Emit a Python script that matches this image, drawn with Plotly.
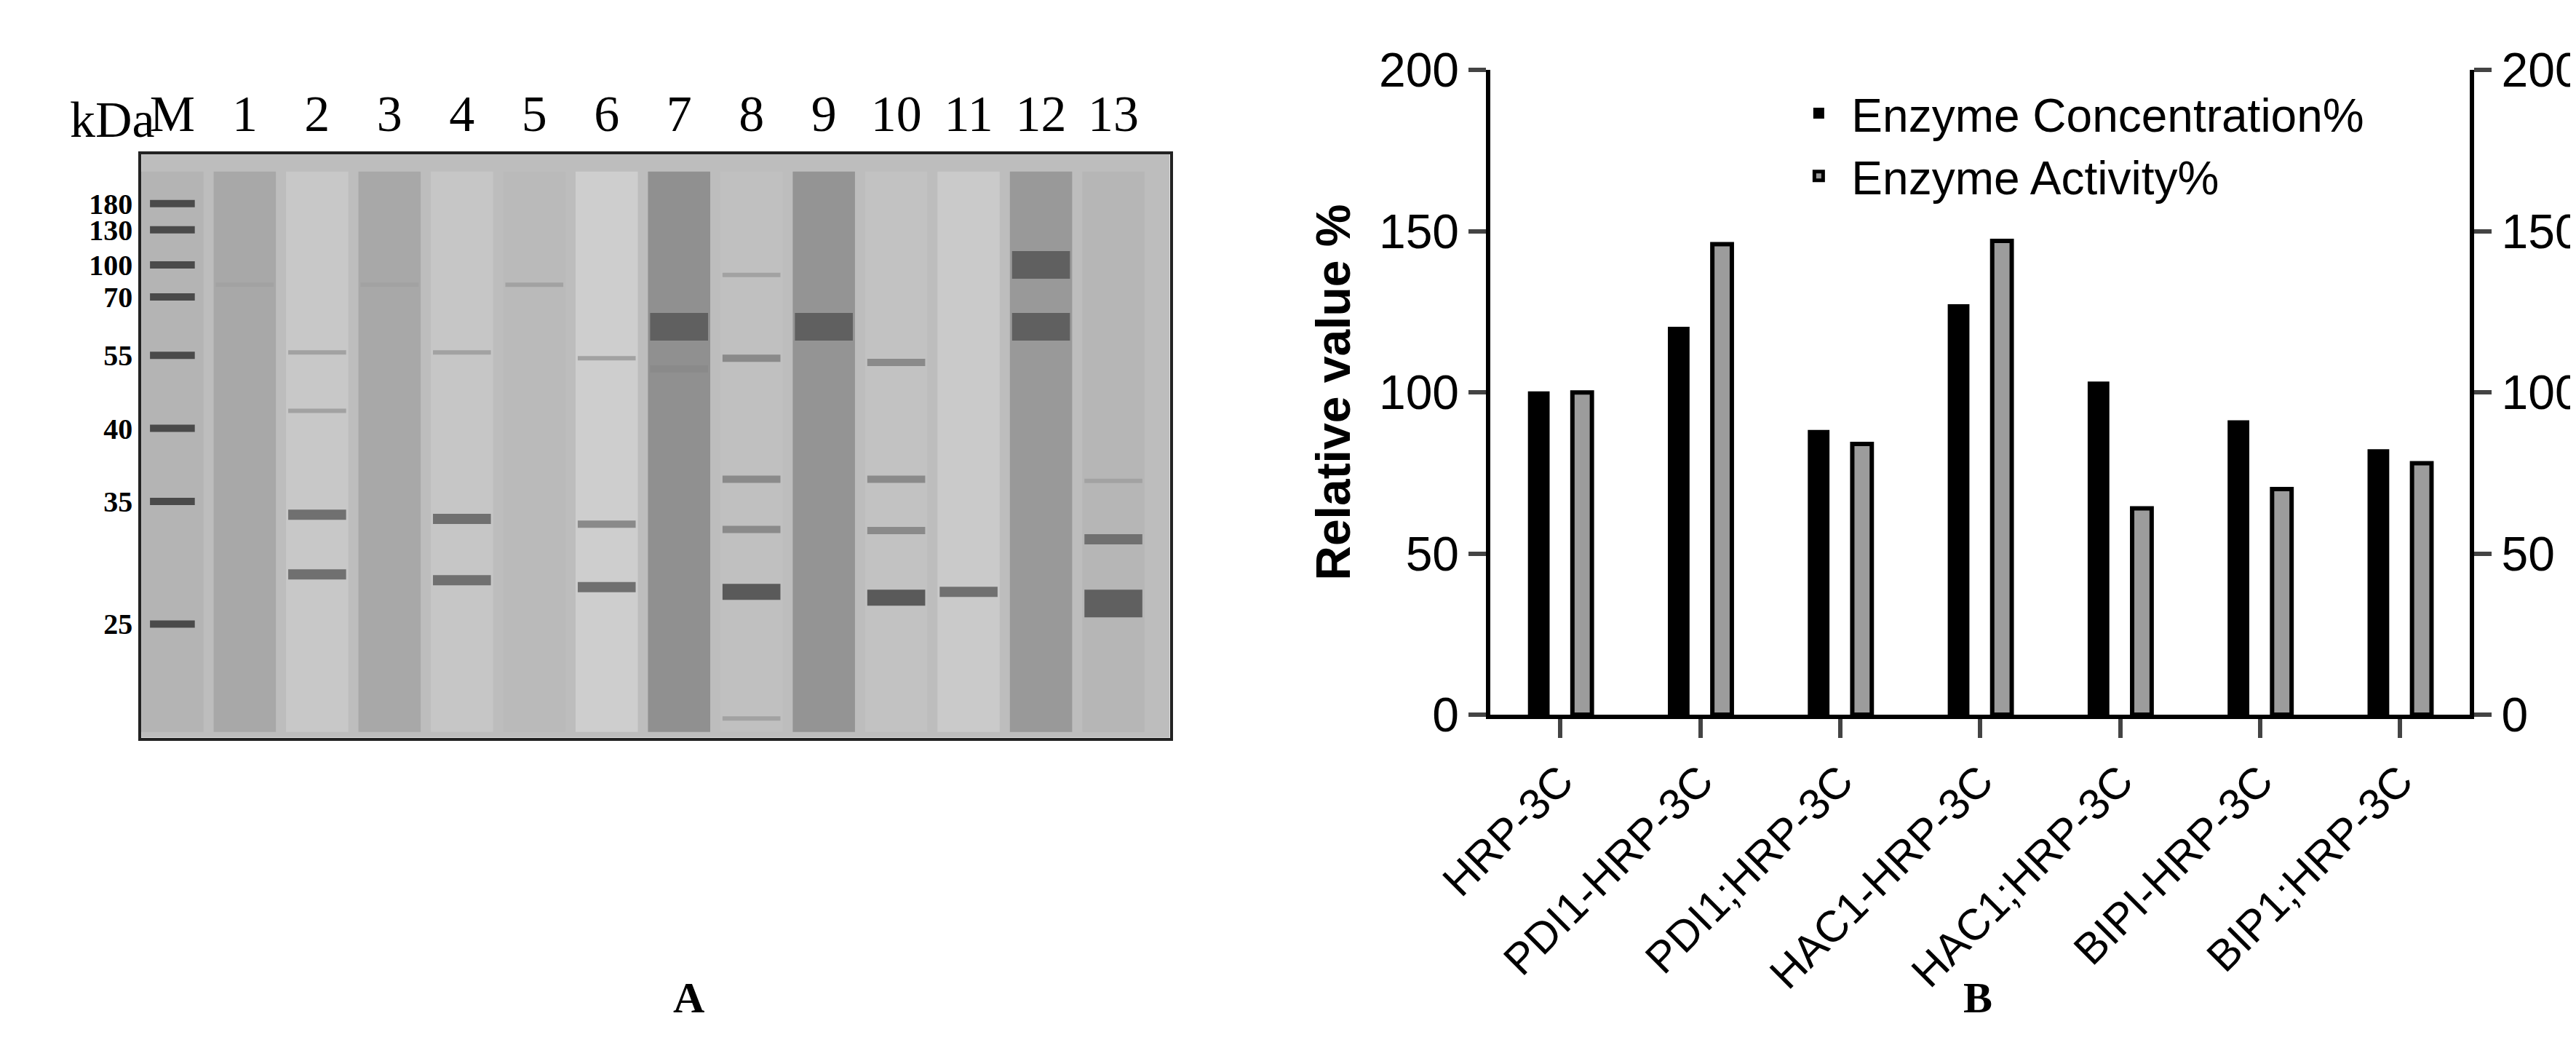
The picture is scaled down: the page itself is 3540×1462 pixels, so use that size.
import plotly.graph_objects as go

# ---- panel B data
constructs = ["HRP-3C", "PDI1-HRP-3C", "PDI1;HRP-3C", "HAC1-HRP-3C",
              "HAC1;HRP-3C", "BIPI-HRP-3C", "BIP1;HRP-3C"]
concentration = [100, 120, 88, 127, 103, 91, 82]
activity = [100, 146, 84, 147, 64, 70, 78]

# ---- panel A data (gel): lanes, marker ladder, smears, bands
lane_labels = ["M", "1", "2", "3", "4", "5", "6", "7", "8", "9", "10", "11", "12", "13"]
marker_kda = ["180", "130", "100", "70", "55", "40", "35", "25"]
marker_pos = [8.5, 13, 19, 24.5, 34.5, 47, 59.5, 80.5]   # migration, % of gel height
smear_shade = ["#b4b4b4", "#a8a8a8", "#c8c8c8", "#a8a8a8", "#c6c6c6", "#bababa", "#cecece",
               "#909090", "#c0c0c0", "#949494", "#c2c2c2", "#cacaca", "#999999", "#b6b6b6"]
band_lane = [2, 2, 2, 2, 4, 4, 4, 6, 6, 6, 7, 7, 8, 8, 8, 8, 8, 8,
             9, 10, 10, 10, 10, 11, 12, 12, 13, 13, 13, 1, 3, 5]
band_pos = [61.8, 72, 34, 44, 62.5, 73, 34, 63.4, 74.2, 35, 29.6, 36.8,
            20.7, 35, 55.7, 64.3, 75, 96.7, 29.6, 35.7, 55.7, 64.5, 76, 75,
            19, 29.6, 56, 66, 77, 22.4, 22.4, 22.4]
band_strength = [3, 3, 1, 1, 3, 3, 1, 2, 3, 1, 5, 2, 1, 2, 2, 2, 4, 1,
                 5, 2, 2, 2, 4, 3, 5, 5, 1, 3, 5, 1, 1, 1]

gel_x_range = [-0.43, 13.78]

fig = go.Figure()

# gel background
fig.add_trace(go.Bar(x=[sum(gel_x_range) / 2], y=[100], base=0,
                     width=gel_x_range[1] - gel_x_range[0],
                     marker=dict(color="#bdbdbd", line=dict(width=0)),
                     xaxis="x2", yaxis="y3", showlegend=False, hoverinfo="skip"))
# gel lane smears
fig.add_trace(go.Bar(x=list(range(len(lane_labels))), y=[96] * len(lane_labels), base=3,
                     width=0.86, marker=dict(color=smear_shade, line=dict(width=0)),
                     xaxis="x2", yaxis="y3", showlegend=False, hoverinfo="skip"))
# marker ladder
fig.add_trace(go.Scatter(x=[0] * len(marker_pos), y=marker_pos, mode="markers",
                         marker=dict(symbol="line-ew", size=44, line=dict(width=10, color="#4a4a4a")),
                         xaxis="x2", yaxis="y3", showlegend=False, hoverinfo="skip"))
# sample bands
shades = {1: "#a2a2a2", 2: "#8a8a8a", 3: "#707070", 4: "#5a5a5a", 5: "#606060"}
widths = {1: 6, 2: 10, 3: 14, 4: 22, 5: 38}
for ln, pos, s in zip(band_lane, band_pos, band_strength):
    fig.add_trace(go.Scatter(x=[ln - 0.4, ln + 0.4], y=[pos, pos], mode="lines",
                             line=dict(color=shades[s], width=widths[s]),
                             xaxis="x2", yaxis="y3", showlegend=False, hoverinfo="skip"))

# panel B bars
fig.add_trace(go.Bar(x=constructs, y=concentration, name="Enzyme Concentration%",
                     marker=dict(color="black", line=dict(color="black", width=3))))
fig.add_trace(go.Bar(x=constructs, y=activity, name="Enzyme Activity%",
                     marker=dict(color="#9c9c9c", line=dict(color="black", width=6))))
fig.add_trace(go.Scatter(x=[constructs[0]], y=[0], yaxis="y2", mode="markers",
                         marker=dict(opacity=0), showlegend=False, hoverinfo="skip"))

axfont = dict(family="Liberation Sans", size=66, color="black")
fig.update_layout(
    width=3540, height=1462, paper_bgcolor="white", plot_bgcolor="rgba(0,0,0,0)",
    margin=dict(l=0, r=0, t=0, b=0),
    barmode="group", bargap=0.38, bargroupgap=0.55,
    xaxis=dict(domain=[0.5675, 0.957], showline=True, linewidth=6, linecolor="black",
               ticks="outside", ticklen=26, tickwidth=6, tickangle=-45,
               tickfont=dict(family="Liberation Sans", size=60, color="black"), anchor="y"),
    yaxis=dict(domain=[0.325, 0.963], range=[0, 200], dtick=50, showline=True, linewidth=6,
               linecolor="black", ticks="outside", ticklen=24, tickwidth=6, showgrid=False,
               zeroline=False, tickfont=axfont,
               title=dict(text="<b>Relative value %</b>", font=axfont, standoff=20)),
    yaxis2=dict(overlaying="y", side="right", range=[0, 200], dtick=50, showline=True,
                linewidth=6, linecolor="black", ticks="outside", ticklen=24, tickwidth=6,
                showgrid=False, zeroline=False, tickfont=axfont, anchor="x"),
    xaxis2=dict(domain=[0.031, 0.44], range=gel_x_range, anchor="y3", side="top",
                tickvals=list(range(len(lane_labels))), ticktext=lane_labels, showline=True,
                mirror=True, linewidth=4, linecolor="#222", showgrid=False, zeroline=False,
                ticks="", tickfont=dict(family="Liberation Serif", size=70, color="black")),
    yaxis3=dict(domain=[0.302, 0.88], range=[100, 0], anchor="x2", tickvals=marker_pos,
                ticktext=["<b>%s</b>" % k for k in marker_kda], showline=True, mirror=True,
                linewidth=4, linecolor="#222", showgrid=False, zeroline=False, ticks="",
                tickfont=dict(family="Liberation Serif", size=40, color="black")),
    legend=dict(x=0.685, y=0.955, xanchor="left", yanchor="top", bgcolor="rgba(0,0,0,0)",
                font=dict(family="Liberation Sans", size=64, color="black"), itemwidth=80,
                tracegroupgap=30),
    showlegend=True,
)

fig.add_annotation(text="kDa", x=0.002, y=0.885, xref="paper", yref="paper", showarrow=False,
                   xanchor="left", yanchor="bottom",
                   font=dict(family="Liberation Serif", size=70, color="black"))
fig.add_annotation(text="<b>A</b>", x=856 / 3540, y=1 - 1434 / 1462, xref="paper", yref="paper",
                   showarrow=False, font=dict(family="Liberation Serif", size=60, color="black"))
fig.add_annotation(text="<b>B</b>", x=2717 / 3540, y=1 - 1434 / 1462, xref="paper", yref="paper",
                   showarrow=False, font=dict(family="Liberation Serif", size=60, color="black"))

fig.write_html("out.html")
